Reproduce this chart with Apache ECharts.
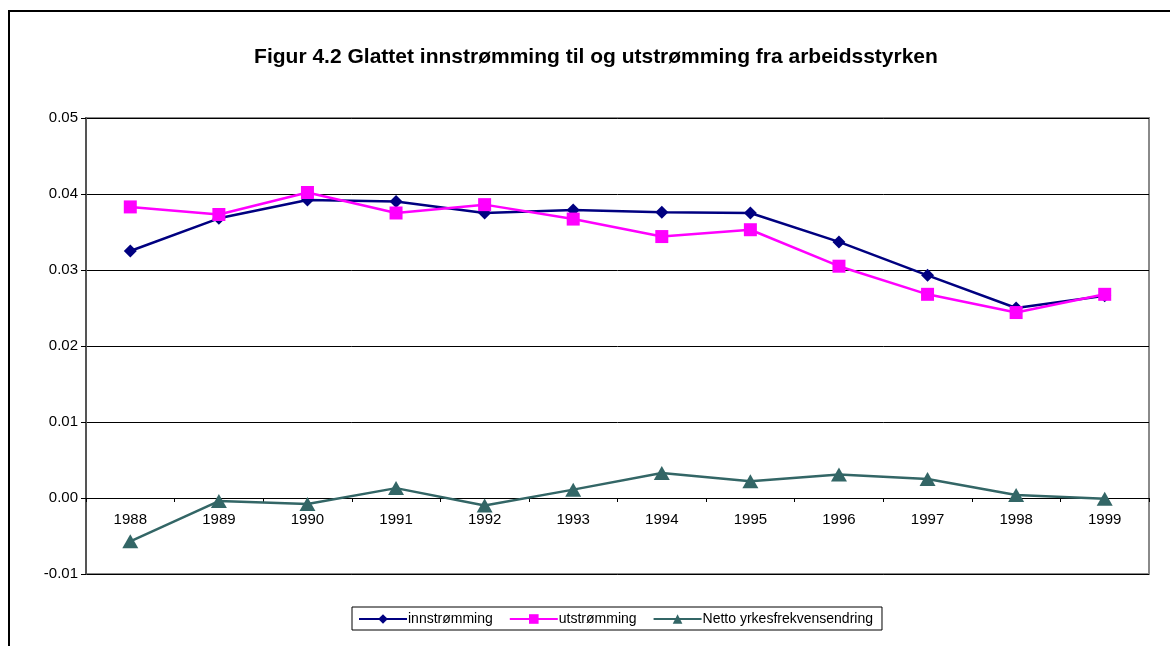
<!DOCTYPE html>
<html>
<head>
<meta charset="utf-8">
<script src="https://cdn.jsdelivr.net/npm/echarts@6/dist/echarts.min.js"></script>
<style>
  html, body { margin: 0; padding: 0; background: #fff; }
  #chart { width: 1170px; height: 646px; }
</style>
</head>
<body>
<div id="chart"></div>
<script>
// Years on the category axis
const years = ['1988', '1989', '1990', '1991', '1992', '1993', '1994', '1995', '1996', '1997', '1998', '1999'];

// Smoothed inflow to the labour force
const innstromming = [0.0325, 0.0368, 0.0392, 0.0390, 0.0375, 0.0379, 0.0376, 0.0375, 0.0337, 0.0293, 0.0250, 0.0266];

// Smoothed outflow from the labour force
const utstromming = [0.0383, 0.0373, 0.0402, 0.0375, 0.0386, 0.0367, 0.0344, 0.0353, 0.0305, 0.0268, 0.0244, 0.0268];

// Net change in participation rate
const netto = [-0.0057, -0.0004, -0.0008, 0.0013, -0.0010, 0.0011, 0.0033, 0.0022, 0.0031, 0.0025, 0.0004, -0.0001];

const seriesNames = ['innstrømming', 'utstrømming', 'Netto yrkesfrekvensendring'];

const font = 'Arial, "Liberation Sans", sans-serif';

const chart = echarts.init(document.getElementById('chart'), null, { renderer: 'canvas' });

chart.setOption({
  backgroundColor: '#ffffff',
  animation: false,
  title: {
    text: 'Figur 4.2 Glattet innstrømming til og utstrømming fra arbeidsstyrken',
    left: 591,
    top: 42,
    textAlign: 'center',
    textStyle: { fontFamily: font, fontSize: 21, fontWeight: 'bold', color: '#000' }
  },
  graphic: [
    // outer frame: top and left edges
    { type: 'line', silent: true, shape: { x1: 8, y1: 11, x2: 1170, y2: 11 }, style: { stroke: '#000', lineWidth: 2 } },
    { type: 'line', silent: true, shape: { x1: 9, y1: 10, x2: 9, y2: 646 }, style: { stroke: '#000', lineWidth: 2 } }
  ],
  grid: {
    left: 86,
    right: 21,
    top: 118,
    bottom: 72,
    show: true,
    borderColor: '#8a8a8a',
    borderWidth: 2,
    backgroundColor: '#fff'
  },
  legend: {
    data: seriesNames,
    left: 352,
    top: 607,
    padding: [5, 9, 4, 6],
    itemGap: 16,
    itemWidth: 48,
    itemHeight: 12,
    borderColor: '#000',
    borderWidth: 1,
    borderRadius: 0,
    textStyle: { fontFamily: font, fontSize: 14, color: '#000', padding: [0, 0, 0, -4] }
  },
  xAxis: {
    type: 'category',
    data: years,
    boundaryGap: true,
    axisLine: { onZero: true, lineStyle: { color: '#000', width: 1 } },
    axisTick: { show: true, length: 4, inside: false, lineStyle: { color: '#000' } },
    // labels sit just under the zero line
    axisLabel: { fontFamily: font, fontSize: 15, color: '#000', margin: -62 },
    splitLine: { show: false }
  },
  yAxis: {
    type: 'value',
    min: -0.01,
    max: 0.05,
    interval: 0.01,
    axisLine: { show: true, lineStyle: { color: '#555', width: 2 } },
    axisTick: { show: true, length: 5, lineStyle: { color: '#000' } },
    axisLabel: {
      fontFamily: font, fontSize: 15, color: '#000', margin: 8,
      formatter: v => v.toFixed(2)
    },
    splitLine: { show: true, lineStyle: { color: '#000', width: 1 } }
  },
  series: [
    {
      name: seriesNames[0],
      type: 'line',
      data: innstromming,
      symbol: 'diamond',
      symbolSize: 13,
      itemStyle: { color: '#000080' },
      lineStyle: { color: '#000080', width: 2.5 },
      z: 3
    },
    {
      name: seriesNames[1],
      type: 'line',
      data: utstromming,
      symbol: 'rect',
      symbolSize: 13,
      itemStyle: { color: '#ff00ff' },
      lineStyle: { color: '#ff00ff', width: 2.5 },
      z: 4
    },
    {
      name: seriesNames[2],
      type: 'line',
      data: netto,
      symbol: 'triangle',
      symbolSize: [16, 14],
      itemStyle: { color: '#336666' },
      lineStyle: { color: '#336666', width: 2.5 },
      z: 5
    }
  ]
});
</script>
</body>
</html>
